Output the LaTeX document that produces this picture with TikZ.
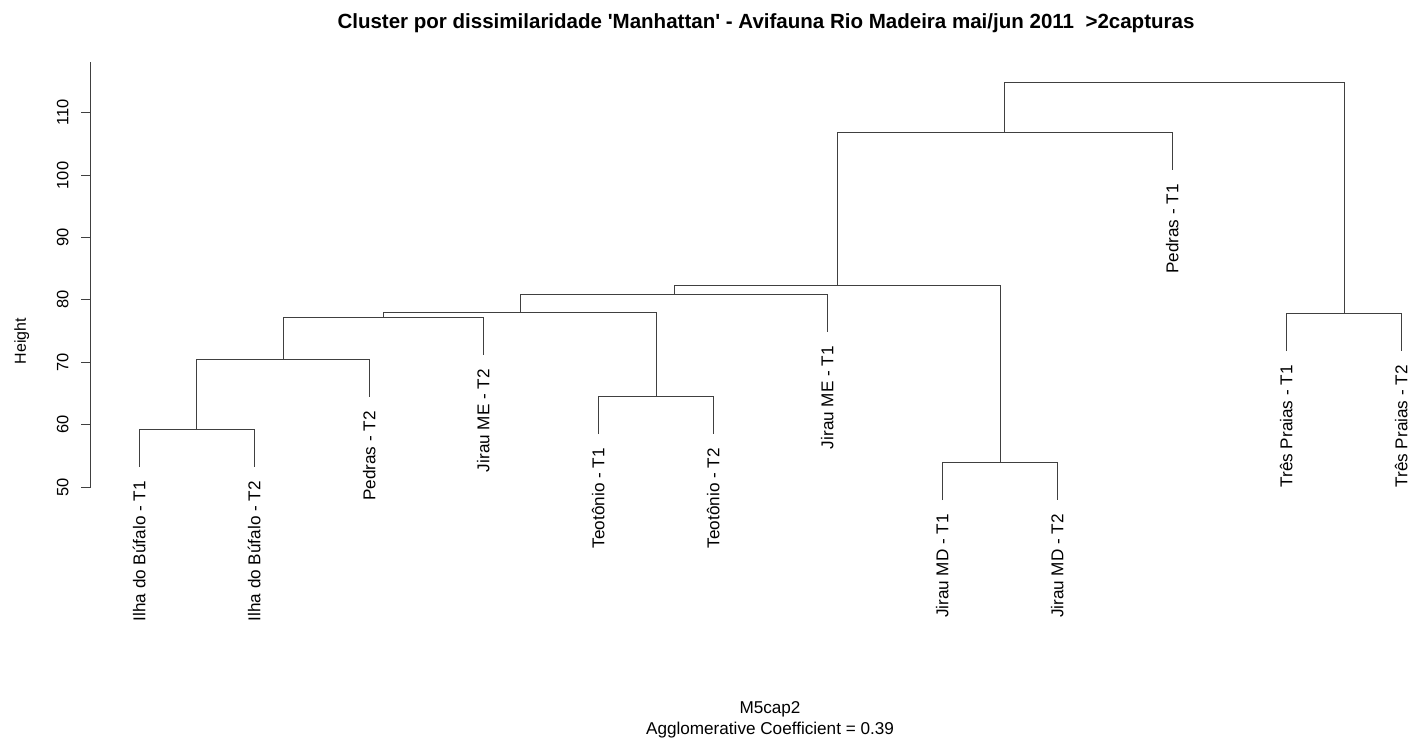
\documentclass[tikz,border=0pt]{standalone}
\usepackage{fontspec}
\setmainfont{Liberation Sans}
\begin{document}
\begin{tikzpicture}[x=1bp,y=-1bp,
  dline/.style={draw=black!75,line width=1bp},
  leaflabel/.style={rotate=90,anchor=east,inner sep=0pt,font=\fontsize{17.2}{20}\selectfont,text height=12pt,text depth=0pt},
  ticklabel/.style={rotate=90,anchor=south,inner sep=0pt,font=\fontsize{16.5}{19}\selectfont,text depth=0pt},
  axlabel/.style={rotate=90,anchor=south,inner sep=0pt,font=\fontsize{16}{19}\selectfont,text depth=0pt},
  titlestyle/.style={anchor=base,inner sep=0pt,font=\bfseries\fontsize{20.6}{24}\selectfont},
  subtitle/.style={anchor=base,inner sep=0pt,font=\fontsize{17.2}{20}\selectfont}]
\useasboundingbox[fill=white] (0,0) rectangle (1410,739);

% title
\node[titlestyle] (title) at (766,28.3) {Cluster por dissimilaridade \textquotesingle Manhattan\textquotesingle\ - Avifauna Rio Madeira mai/jun 2011\ \ >2capturas};

% y axis
\coordinate (ax0) at (90.5,487.5);
\coordinate (ax1) at (90.5,62.5);
\draw[dline] (ax0) -- (ax1);
\foreach \v/\yy in {110/112.5,100/175.5,90/237.5,80/299.5,70/362.5,60/424.5,50/487.5}{
  \coordinate (tk\v) at (90.5,\yy);
  \coordinate (te\v) at (80.5,\yy);
  \draw[dline] (tk\v) -- (te\v);
  \node[ticklabel] (tl\v) at (68.5,\yy) {\v};
}
\node[axlabel] (ylab) at (26,341) {Height};

% merge points
\coordinate (M1) at (196.5,429.5);
\coordinate (M2) at (283.5,359.5);
\coordinate (M3) at (383.5,317.5);
\coordinate (M4) at (656.5,396.5);
\coordinate (M5) at (520.5,312.5);
\coordinate (M6) at (674.5,294.5);
\coordinate (M7) at (1000.5,462.5);
\coordinate (M8) at (837.5,285.5);
\coordinate (M9) at (1004.5,132.5);
\coordinate (M10) at (1344.5,313.5);
\coordinate (M11) at (1174.5,82.5);

% leaf tips
\coordinate (L1) at (139.5,467);
\coordinate (L2) at (254.5,467);
\coordinate (L3) at (369.5,397);
\coordinate (L4) at (483.5,355);
\coordinate (L5) at (598.5,434);
\coordinate (L6) at (713.5,434);
\coordinate (L7) at (827.5,332);
\coordinate (L8) at (942.5,500);
\coordinate (L9) at (1057.5,500);
\coordinate (L10) at (1172.5,170);
\coordinate (L11) at (1286.5,351);
\coordinate (L12) at (1401.5,351);

% leaf labels
\node[leaflabel] (n1) at (139.5,481) {Ilha do Búfalo - T1};
\node[leaflabel] (n2) at (254.5,481) {Ilha do Búfalo - T2};
\node[leaflabel] (n3) at (369.5,411) {Pedras - T2};
\node[leaflabel] (n4) at (483.5,369) {Jirau ME - T2};
\node[leaflabel] (n5) at (598.5,448) {Teotônio - T1};
\node[leaflabel] (n6) at (713.5,448) {Teotônio - T2};
\node[leaflabel] (n7) at (827.5,346) {Jirau ME - T1};
\node[leaflabel] (n8) at (942.5,514) {Jirau MD - T1};
\node[leaflabel] (n9) at (1057.5,514) {Jirau MD - T2};
\node[leaflabel] (n10) at (1172.5,184) {Pedras - T1};
\node[leaflabel] (n11) at (1286.5,365) {Três Praias - T1};
\node[leaflabel] (n12) at (1401.5,365) {Três Praias - T2};

% dendrogram branches
\draw[dline] (L1) |- (M1) -| (L2);
\draw[dline] (M1) |- (M2) -| (L3);
\draw[dline] (M2) |- (M3) -| (L4);
\draw[dline] (L5) |- (M4) -| (L6);
\draw[dline] (M3) |- (M5) -| (M4);
\draw[dline] (M5) |- (M6) -| (L7);
\draw[dline] (L8) |- (M7) -| (L9);
\draw[dline] (M6) |- (M8) -| (M7);
\draw[dline] (M8) |- (M9) -| (L10);
\draw[dline] (L11) |- (M10) -| (L12);
\draw[dline] (M9) |- (M11) -| (M10);

% bottom text
\node[subtitle] (sub1) at (770,713.3) {M5cap2};
\node[subtitle] (sub2) at (770,734.3) {Agglomerative Coefficient = 0.39};
\end{tikzpicture}
\end{document}
